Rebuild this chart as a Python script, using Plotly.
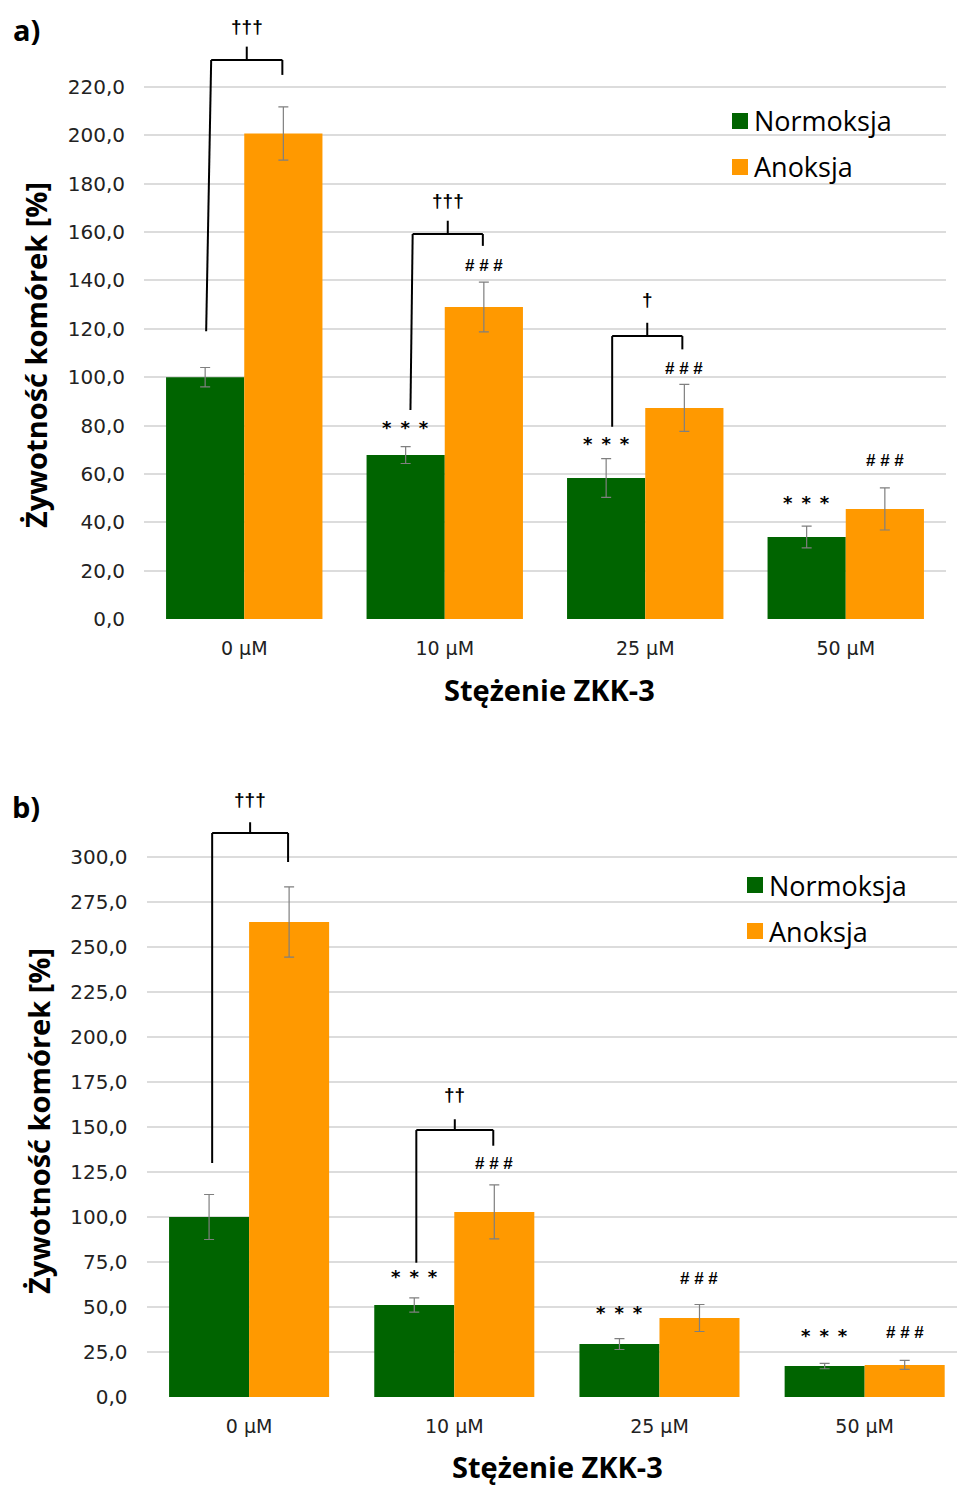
import plotly.graph_objects as go

# ---- data -------------------------------------------------------------
categories = ["0 µM", "10 µM", "25 µM", "50 µM"]

# panel a
a_norm = [100.0, 67.8, 58.3, 33.9]
a_norm_err = [4.0, 3.5, 8.0, 4.5]
a_anox = [200.8, 129.0, 87.3, 45.5]
a_anox_err = [11.0, 10.3, 9.7, 8.7]
a_ticks = [0, 20, 40, 60, 80, 100, 120, 140, 160, 180, 200, 220]

# panel b
b_norm = [100.0, 51.1, 29.4, 17.2]
b_norm_err = [12.5, 4.0, 3.0, 1.5]
b_anox = [263.9, 102.8, 43.9, 17.8]
b_anox_err = [19.5, 15.0, 7.5, 2.5]
b_ticks = [0, 25, 50, 75, 100, 125, 150, 175, 200, 225, 250, 275, 300]

# significance marks: (category index, side, label, y)
a_marks = [(1, -1, "*", 79), (1, 1, "#", 146),
           (2, -1, "*", 72.7), (2, 1, "#", 103.7),
           (3, -1, "*", 48.1), (3, 1, "#", 65.5)]
b_marks = [(1, -1, "*", 66.8), (1, 1, "#", 130),
           (2, -1, "*", 46.7), (2, 1, "#", 66.1),
           (3, -1, "*", 34.4), (3, 1, "#", 35.6)]

# brackets: (category, left-top dx, left-bottom dx, right dx, y bar, y left end, y right end, label, y label)
a_brackets = [(0, -0.165, -0.19, 0.19, 231.2, 119, 225, "†††", 245),
              (1, -0.16, -0.171, 0.19, 159.2, 86.4, 154.3, "†††", 173),
              (2, -0.165, -0.165, 0.185, 117, 79.5, 111.5, "†", 132.2)]
b_brackets = [(0, -0.18, -0.18, 0.19, 313.3, 130, 297.2, "†††", 331.7),
              (1, -0.185, -0.185, 0.19, 148.3, 74.6, 139.6, "††", 167.8)]

GREEN = "#006400"
ORANGE = "#FF9900"
W, H = 957, 1488


def px(x):
    return x / W


def py(y):
    return 1 - y / H


fig = go.Figure()

x_idx = list(range(len(categories)))

for (norm, nerr, anox, aerr, xa, ya) in [
    (a_norm, a_norm_err, a_anox, a_anox_err, "x", "y"),
    (b_norm, b_norm_err, b_anox, b_anox_err, "x2", "y2"),
]:
    fig.add_trace(go.Bar(
        x=x_idx, y=norm, name="Normoksja", marker=dict(color=GREEN, line=dict(width=0)),
        error_y=dict(type="data", array=nerr, color="#7f7f7f", thickness=1.2, width=5),
        xaxis=xa, yaxis=ya, showlegend=False, offsetgroup="n",
    ))
    fig.add_trace(go.Bar(
        x=x_idx, y=anox, name="Anoksja", marker=dict(color=ORANGE, line=dict(width=0)),
        error_y=dict(type="data", array=aerr, color="#7f7f7f", thickness=1.2, width=5),
        xaxis=xa, yaxis=ya, showlegend=False, offsetgroup="a",
    ))

ytick_font = dict(family="DejaVu Sans", size=20, color="#222222")
xtick_font = dict(family="DejaVu Sans", size=19, color="#222222")


def fmt(v):
    return f"{v:.1f}".replace(".", ",")


common_x = dict(tickvals=x_idx, ticktext=categories, showgrid=False, zeroline=False,
                showline=False, ticks="", tickfont=xtick_font, ticklabelstandoff=16,
                automargin=False, fixedrange=True)
common_y = dict(showgrid=True, gridcolor="#DCDCDC", gridwidth=1.5, zeroline=False,
                showline=False, ticks="", tickfont=ytick_font, ticklabelstandoff=18,
                automargin=False)

fig.update_layout(
    width=W, height=H, autosize=False,
    margin=dict(l=0, r=0, t=0, b=0, pad=0),
    paper_bgcolor="white", plot_bgcolor="white",
    barmode="group", bargap=0.22, bargroupgap=0,
    xaxis=dict(domain=[px(144), px(946)], range=[-0.5, 3.5], anchor="y", **common_x),
    yaxis=dict(domain=[py(619), 1.0], range=[0, 619 / (532 / 220)], anchor="x",
               tickvals=a_ticks, ticktext=[fmt(v) for v in a_ticks], **common_y),
    xaxis2=dict(domain=[px(146.5), 1.0], range=[-0.5, 3.45], anchor="y2", **common_x),
    yaxis2=dict(domain=[py(1397), py(780)], range=[0, (1397 - 780) / 1.8], anchor="x2",
                tickvals=b_ticks, ticktext=[fmt(v) for v in b_ticks], **common_y),
    showlegend=False,
)

# per-bar half offset in category units
half = (1 - 0.22) / 4

shapes = []
annotations = []
star_font = dict(family="DejaVu Sans", size=18, color="black")
hash_font = dict(family="Liberation Sans", size=17, color="black")
dag_font = dict(family="Liberation Sans", size=19, color="black")
SEP = "\u2002"

for marks, xr, yr in [(a_marks, "x", "y"), (b_marks, "x2", "y2")]:
    for cat, side, sym, yv in marks:
        if sym == "*":
            text, font = SEP.join(["*"] * 3), star_font
        else:
            text, font = " ".join(["#"] * 3), hash_font
        annotations.append(dict(x=cat + side * half, y=yv, xref=xr, yref=yr, text=f"<b>{text}</b>",
                                showarrow=False, font=font, xanchor="center", yanchor="middle"))

for brackets, xr, yr in [(a_brackets, "x", "y"), (b_brackets, "x2", "y2")]:
    for cat, dl_top, dl_bot, dr, ybar, yl, yrgt, label, ylab in brackets:
        line = dict(color="black", width=2)
        shapes.append(dict(type="line", xref=xr, yref=yr, x0=cat + dl_top, x1=cat + dr,
                           y0=ybar, y1=ybar, line=line))
        shapes.append(dict(type="line", xref=xr, yref=yr, x0=cat + dl_top, x1=cat + dl_bot,
                           y0=ybar, y1=yl, line=line))
        shapes.append(dict(type="line", xref=xr, yref=yr, x0=cat + dr, x1=cat + dr,
                           y0=ybar, y1=yrgt, line=line))
        mid = cat + (dl_top + dr) / 2
        top = ybar + (5.5 if yr == "y" else 6.0)
        shapes.append(dict(type="line", xref=xr, yref=yr, x0=mid, x1=mid,
                           y0=ybar, y1=top, line=line))
        annotations.append(dict(x=mid, y=ylab, xref=xr, yref=yr, text=f"<b>{label}</b>",
                                showarrow=False, font=dag_font, xanchor="center", yanchor="middle"))

# legends drawn as swatches + labels
legend_font = dict(family="Open Sans", size=27, color="black")
for (sx, sy_n, sy_a) in [(732, 121, 167), (747, 885, 931)]:
    for sy, color, name in [(sy_n, GREEN, "Normoksja"), (sy_a, ORANGE, "Anoksja")]:
        shapes.append(dict(type="rect", xref="paper", yref="paper",
                           x0=px(sx), x1=px(sx + 16), y0=py(sy - 8), y1=py(sy + 8),
                           fillcolor=color, line=dict(width=0)))
        annotations.append(dict(x=px(sx + 20), y=py(sy), xref="paper", yref="paper", text=name,
                                showarrow=False, font=legend_font, xanchor="left", yanchor="middle"))

# axis titles and panel labels
title_font = dict(family="Open Sans", size=29, color="black")
for (tx, ty, anchor, yx, yy) in [(549, 690, "middle", 36, 355), (557, 1487, "bottom", 38, 1121)]:
    annotations.append(dict(x=px(tx), y=py(ty), xref="paper", yref="paper", text="<b>Stężenie ZKK-3</b>",
                            showarrow=False, font=title_font, xanchor="center", yanchor=anchor,
                            borderpad=0))
    annotations.append(dict(x=px(yx), y=py(yy), xref="paper", yref="paper",
                            text="<b>Żywotność komórek [%]</b>", textangle=-90,
                            showarrow=False, font=title_font, xanchor="center", yanchor="middle"))

for lab, lx, ly in [("a)", 26, 30), ("b)", 26, 806)]:
    annotations.append(dict(x=px(lx), y=py(ly), xref="paper", yref="paper", text=f"<b>{lab}</b>",
                            showarrow=False, font=dict(family="Open Sans", size=29, color="black"),
                            xanchor="center", yanchor="middle"))

fig.update_layout(shapes=shapes, annotations=annotations)
fig.write_html("out.html")
